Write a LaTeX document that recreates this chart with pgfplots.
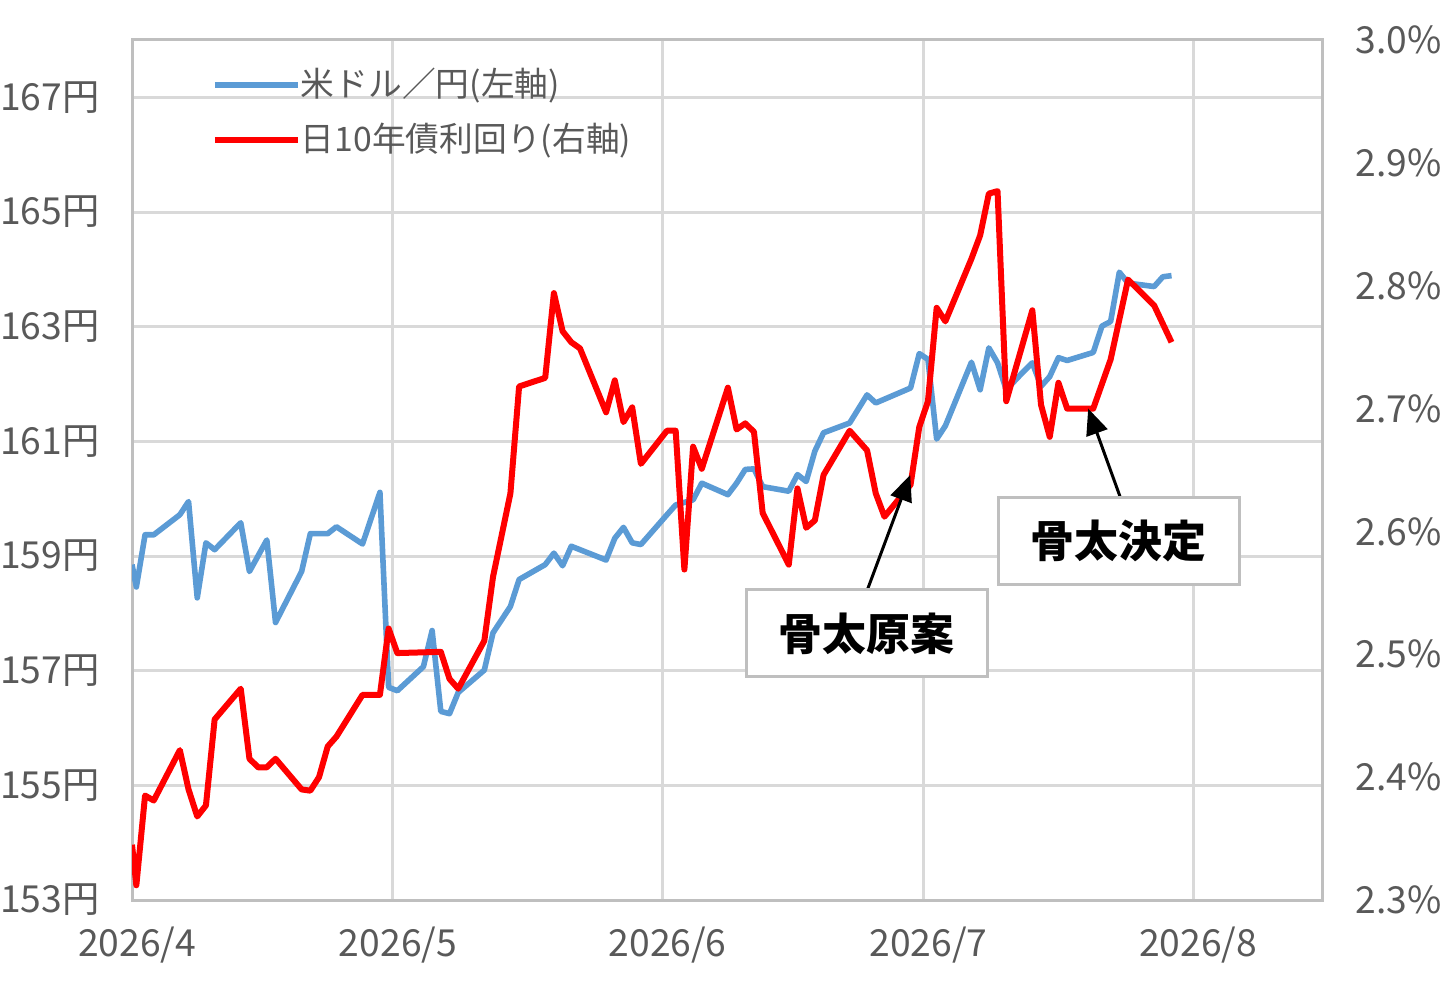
\documentclass[border=0pt]{standalone}
\usepackage{fontspec}
\setmainfont{Noto Sans CJK JP}
\usepackage{pgfplots}
\usepackage{pgfplotstable}
\pgfplotsset{compat=1.18}
\usetikzlibrary{arrows.meta}
\definecolor{usdblue}{HTML}{5B9BD5}
\definecolor{jgbred}{HTML}{FF0000}
\definecolor{gridgray}{HTML}{D9D9D9}
\definecolor{bordergray}{HTML}{BFBFBF}
\definecolor{labelgray}{HTML}{595959}

\pgfplotstableread{
d yen
0 158.85
0.5 158.46
1.5 159.37
2.5 159.37
5.5 159.72
6.5 159.95
7.5 158.27
8.5 159.23
9.5 159.11
12.5 159.58
13.5 158.73
15.5 159.28
16.5 157.84
19.5 158.73
20.5 159.39
22.5 159.39
23.5 159.51
26.5 159.21
28.5 160.11
29.5 156.71
30.5 156.65
33.5 157.07
34.5 157.70
35.5 156.29
36.5 156.25
37.5 156.62
40.5 157.01
41.5 157.66
43.5 158.12
44.5 158.59
47.5 158.85
48.5 159.05
49.5 158.83
50.5 159.17
54.5 158.93
55.5 159.31
56.5 159.50
57.5 159.23
58.5 159.20
61.5 159.72
62.5 159.89
64.5 159.98
65.5 160.27
68.5 160.07
69.5 160.27
70.5 160.51
71.5 160.52
72.5 160.21
75.5 160.13
76.5 160.42
77.5 160.30
78.5 160.83
79.5 161.15
82.5 161.32
84.5 161.81
85.5 161.67
89.5 161.93
90.5 162.53
91.5 162.43
92.5 161.04
93.5 161.27
96.5 162.38
97.5 161.90
98.5 162.63
99.5 162.37
100.5 161.90
102.5 162.22
103.5 162.37
104.5 161.96
105.5 162.13
106.5 162.46
107.5 162.41
110.5 162.55
111.5 163.01
112.5 163.09
113.5 163.95
114.5 163.76
117.5 163.70
118.5 163.87
119.5 163.89
}\usdjpy

\pgfplotstableread{
d yld
0 2.345
0.5 2.312
1.5 2.385
2.5 2.381
5.5 2.422
6.5 2.390
7.5 2.368
8.5 2.377
9.5 2.447
12.5 2.472
13.5 2.415
14.5 2.408
15.5 2.408
16.5 2.415
19.5 2.390
20.5 2.389
21.5 2.400
22.5 2.425
23.5 2.433
26.5 2.467
28.5 2.467
29.5 2.521
30.5 2.501
35.5 2.502
36.5 2.480
37.5 2.472
40.5 2.511
41.5 2.563
43.5 2.631
44.5 2.718
47.5 2.725
48.5 2.794
49.5 2.763
50.5 2.754
51.5 2.749
54.5 2.697
55.5 2.723
56.5 2.689
57.5 2.701
58.5 2.655
61.5 2.682
62.5 2.682
63.5 2.569
64.5 2.669
65.5 2.651
68.5 2.717
69.5 2.683
70.5 2.688
71.5 2.681
72.5 2.615
75.5 2.573
76.5 2.635
77.5 2.603
78.5 2.609
79.5 2.646
82.5 2.682
84.5 2.666
85.5 2.631
86.5 2.612
89.5 2.638
90.5 2.685
91.5 2.706
92.5 2.782
93.5 2.771
96.5 2.822
97.5 2.841
98.5 2.875
99.5 2.877
100.5 2.706
103.5 2.780
104.5 2.703
105.5 2.677
106.5 2.721
107.5 2.700
110.5 2.700
112.5 2.740
114.5 2.805
117.5 2.784
118.5 2.769
119.5 2.754
}\jgb

\pgfplotsset{
  base/.style={
    scale only axis, width=119mm, height=86mm,
    at={(0,0)}, anchor=south west,
    xmin=0, xmax=136.8,
    /pgf/number format/assume math mode=true,
    tick style={draw=none},
    ticklabel style={font=\fontsize{10.6}{13}\selectfont, text=labelgray, inner sep=0pt},
  }
}

\begin{document}
\begin{tikzpicture}
\useasboundingbox (-13.2mm,-8.4mm) rectangle (132.4mm,90mm);

\begin{axis}[base,
  ymin=153, ymax=168,
  xtick={0,30,61,91,122},
  xticklabels={2026/4,2026/5,2026/6,2026/7,2026/8},
  xticklabel shift=2.6mm,
  xticklabel style={anchor=north, xshift=0.5mm},
  ytick={153,155,...,167},
  yticklabel={\pgfmathprintnumber{\tick}円},
  yticklabel shift=3.2mm,
  grid=major,
  major grid style={color=gridgray, line width=0.3mm},
  axis line style={color=bordergray, line width=0.3mm},
  legend cell align=left,
  legend image code/.code={\draw[#1] (0mm,0mm) -- (8.3mm,0mm);},
  legend style={draw=none, fill=none, inner sep=0pt, outer sep=0pt,
    at={(axis description cs:0.0672,0.971)}, anchor=north west,
    font=\fontsize{9.6}{11}\selectfont, text=labelgray,
    row sep=1.5mm,
    nodes={inner sep=0pt, text height=3.2mm, text depth=0.8mm},
    /tikz/every even column/.append style={column sep=0.7mm}},
]
\addplot[color=usdblue, line width=0.56mm, line join=round] table[x=d, y=yen] {\usdjpy};
\addlegendentry{米ドル／円(左軸)}
\addlegendimage{color=jgbred, line width=0.6mm}
\addlegendentry{日10年債利回り(右軸)}
\end{axis}

\begin{axis}[base,
  ymin=2.3, ymax=3.0,
  axis y line*=right, axis x line=none,
  axis line style={draw=none},
  ytick={2.3,2.4,...,3.0},
  yticklabel={\pgfmathprintnumber[fixed,fixed zerofill,precision=1]{\tick}\%},
  yticklabel shift=3.3mm,
]
\addplot[color=jgbred, line width=0.6mm, line join=round] table[x=d, y=yld] {\jgb};
\draw[line width=0.3mm, -{Triangle[length=2.6mm,width=2.2mm]}] (axis cs:84.51,2.552) -- (axis cs:89.46,2.646);
\draw[line width=0.3mm, -{Triangle[length=2.6mm,width=2.2mm]}] (axis cs:113.60,2.628) -- (axis cs:109.92,2.700);
\node[draw=bordergray, line width=0.3mm, fill=white, minimum width=24.1mm, minimum height=8.7mm, inner sep=0pt, font=\fontsize{12.5}{14}\selectfont\bfseries] at (axis cs:84.45,2.517) {骨太原案};
\node[draw=bordergray, line width=0.3mm, fill=white, minimum width=24.1mm, minimum height=8.7mm, inner sep=0pt, font=\fontsize{12.5}{14}\selectfont\bfseries] at (axis cs:113.43,2.592) {骨太決定};
\end{axis}
\end{tikzpicture}
\end{document}
